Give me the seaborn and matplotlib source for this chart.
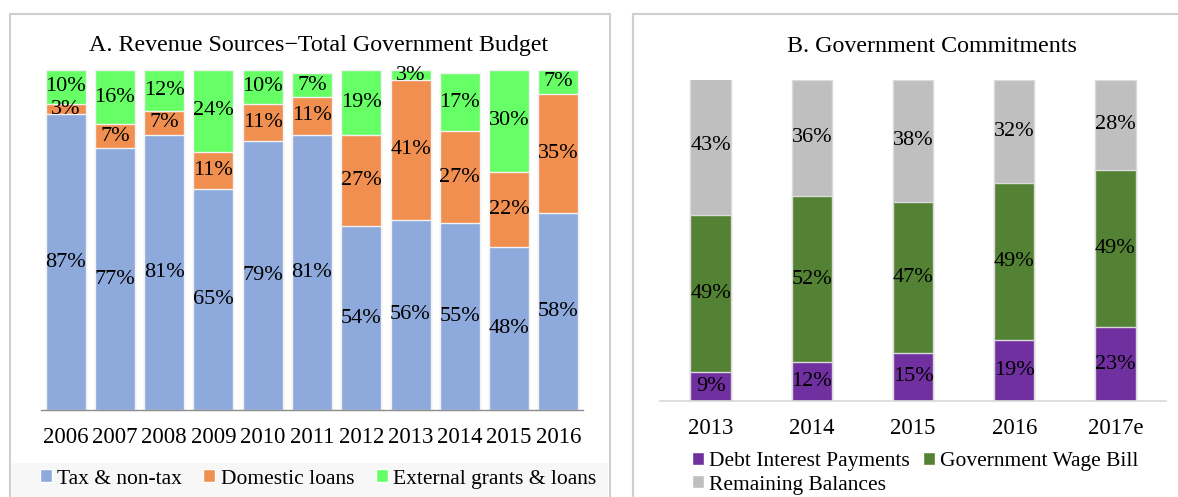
import matplotlib
matplotlib.use("Agg")
import matplotlib.pyplot as plt
from matplotlib.patches import Rectangle, Patch
import numpy as np
import pandas as pd
import seaborn as sns

# ---- Panel A data: revenue sources, share of total budget (%) ----
years_a = ["2006", "2007", "2008", "2009", "2010", "2011",
           "2012", "2013", "2014", "2015", "2016"]
tax_nontax = [87, 77, 81, 65, 79, 81, 54, 56, 55, 48, 58]
domestic_loans = [3, 7, 7, 11, 11, 11, 27, 41, 27, 22, 35]
external_grants = [10, 16, 12, 24, 10, 7, 19, 3, 17, 30, 7]
series_a = ["Tax & non-tax", "Domestic loans", "External grants & loans"]
colors_a = ["#8EA9DB", "#F08F4F", "#66FF66"]

# ---- Panel B data: government commitments (%) ----
years_b = ["2013", "2014", "2015", "2016", "2017e"]
debt_interest = [9, 12, 15, 19, 23]
wage_bill = [49, 52, 47, 49, 49]
remaining = [43, 36, 38, 32, 28]
series_b = ["Debt Interest Payments", "Government Wage Bill", "Remaining Balances"]
colors_b = ["#7030A0", "#548235", "#BFBFBF"]

sns.set_theme(style="white")
plt.rcParams["font.family"] = ["Liberation Serif", "DejaVu Serif"]

W, H = 1178, 497
fig = plt.figure(figsize=(W / 100, H / 100), dpi=100)

LABEL_SIZE = 16
TICK_SIZE = 16.5
TITLE_SIZE = 17.3
LEGEND_SIZE = 15.5
INK = "#000000"


def px_axes(left, top, right, bottom):
    """Axes placed by pixel edges (origin top-left)."""
    return fig.add_axes([left / W, 1 - bottom / H, (right - left) / W, (bottom - top) / H])


def stacked(ax, cats, layers, colors, width, edge):
    df = pd.DataFrame({"cat": cats})
    cum = np.zeros(len(cats))
    tops = []
    for vals in layers:
        cum = cum + np.array(vals, dtype=float)
        tops.append(cum.copy())
    # draw the tallest cumulative layer first so lower layers sit on top
    for i in range(len(layers) - 1, -1, -1):
        df["v"] = tops[i]
        sns.barplot(data=df, x="cat", y="v", color=colors[i], width=width,
                    edgecolor=edge, linewidth=1.0, saturation=1, ax=ax)
    for i, vals in enumerate(layers):
        base = tops[i] - np.array(vals)
        for j, v in enumerate(vals):
            ax.text(j, base[j] + v / 2, f"{v}%", ha="center", va="center",
                    fontsize=LABEL_SIZE, color=INK)
    ax.set_ylim(0, 100)
    ax.set_xlim(-0.5, len(cats) - 0.5)
    ax.set_xlabel("")
    ax.set_ylabel("")
    ax.set_yticks([])
    ax.tick_params(axis="x", length=0, pad=12, labelsize=TICK_SIZE, colors=INK)
    for s in ["top", "right", "left"]:
        ax.spines[s].set_visible(False)


# panel frames and legend band
fig.patches.append(Rectangle((10 / W, -0.1), 600 / W, 1.1 - 14 / H, transform=fig.transFigure,
                             fill=False, edgecolor="#CFCFCF", linewidth=1.5))
fig.patches.append(Rectangle((633 / W, -0.1), 600 / W, 1.1 - 14 / H, transform=fig.transFigure,
                             fill=False, edgecolor="#CFCFCF", linewidth=1.5))
fig.patches.append(Rectangle((12 / W, 0), 596 / W, 34 / H, transform=fig.transFigure,
                             facecolor="#F7F7F7", edgecolor="none", zorder=0))

# Panel A
ax_a = px_axes(41, 70, 583, 410)
ax_a.patch.set_alpha(0)
stacked(ax_a, years_a, [tax_nontax, domestic_loans, external_grants], colors_a,
        0.81, "#F2F2F2")
ax_a.spines["bottom"].set_color("#8C8C8C")
ax_a.spines["bottom"].set_linewidth(1.0)
fig.text(319 / W, 1 - 46 / H, "A. Revenue Sources\u2212Total Government Budget",
         ha="center", va="center", fontsize=TITLE_SIZE, color=INK)
fig.legend(handles=[Patch(facecolor=c, label=n) for c, n in zip(colors_a, series_a)],
           loc="center", bbox_to_anchor=(318 / W, 1 - 479 / H), ncol=3, frameon=False,
           fontsize=LEGEND_SIZE, handlelength=0.55, handleheight=0.55, handletextpad=0.25,
           columnspacing=1.0, borderaxespad=0, labelcolor=INK)

# Panel B
ax_b = px_axes(660, 80, 1166, 401)
ax_b.patch.set_alpha(0)
stacked(ax_b, years_b, [debt_interest, wage_bill, remaining], colors_b,
        0.40, "#DADADA")
ax_b.spines["bottom"].set_color("#D9D9D9")
ax_b.spines["bottom"].set_linewidth(1.2)
fig.text(932 / W, 1 - 47 / H, "B. Government Commitments",
         ha="center", va="center", fontsize=TITLE_SIZE, color=INK)
# column-major fill: first column holds items 0 and 1, second column item 2
order_b = [0, 2, 1]
fig.legend(handles=[Patch(facecolor=colors_b[k], label=series_b[k]) for k in order_b],
           loc="upper left", bbox_to_anchor=(692 / W, 1 - 452 / H), ncol=2, frameon=False,
           fontsize=LEGEND_SIZE, handlelength=0.55, handleheight=0.55, handletextpad=0.25,
           columnspacing=0.6, labelspacing=0.2, borderaxespad=0, borderpad=0,
           labelcolor=INK)

fig.savefig("out.png", dpi=100)
